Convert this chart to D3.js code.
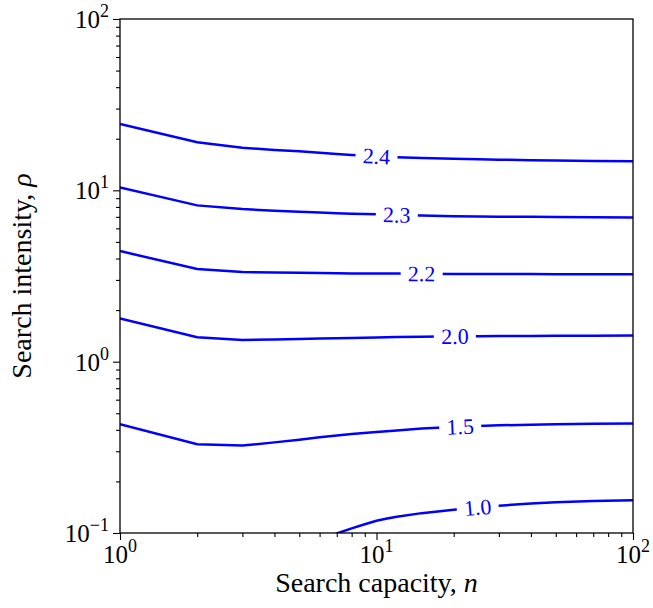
<!DOCTYPE html>
<meta charset="utf-8">
<style>
body { margin: 0; background: #fff; }
text { font-family: "Liberation Serif", "Times New Roman", serif; }
.frame { fill: none; stroke: #000; stroke-width: 1.3px; }
.contour { fill: none; stroke: #0000ff; stroke-width: 2.5px; }
.clabel { fill: #0000ff; font-size: 22px; }
.axis path { display: none; }
.axis line { stroke: #000; stroke-width: 1.1px; }
</style>
<body>
<script src="https://d3js.org/d3.v7.min.js"></script>
<script>

// search capacity grid
var capacity = [1, 2, 3, 4, 5, 6, 7, 8, 10, 12, 15, 20, 25, 30, 40, 50, 70, 100];

// contour levels of search intensity along the grid
var rho24 = [24.4, 19.1, 17.7, 17.2, 16.9, 16.55, 16.3, 16.1, 15.8, 15.6, 15.45, 15.3, 15.2, 15.1, 15.0, 14.95, 14.85, 14.8];
var rho23 = [10.4, 8.17, 7.78, 7.6, 7.5, 7.42, 7.35, 7.3, 7.24, 7.18, 7.12, 7.07, 7.04, 7.02, 7.0, 6.98, 6.96, 6.95];
var rho22 = [4.42, 3.47, 3.34, 3.31, 3.30, 3.29, 3.28, 3.275, 3.27, 3.265, 3.26, 3.25, 3.25, 3.25, 3.245, 3.24, 3.24, 3.24];
var rho20 = [1.79, 1.39, 1.34, 1.345, 1.355, 1.363, 1.37, 1.376, 1.385, 1.392, 1.40, 1.405, 1.408, 1.41, 1.413, 1.415, 1.418, 1.42];
var rho15 = [0.431, 0.330, 0.324, 0.338, 0.350, 0.362, 0.371, 0.378, 0.389, 0.397, 0.407, 0.416, 0.421, 0.425, 0.429, 0.431, 0.434, 0.436];

// the 1.0 contour only enters the plot near n = 7
var capacityLow = [6, 7, 8, 9, 10, 11, 12, 15, 20, 25, 30, 40, 50, 70, 100];
var rho10 = [0.0897, 0.0993, 0.1064, 0.1124, 0.1178, 0.1215, 0.1245, 0.1306, 0.1368, 0.1412, 0.1443, 0.1486, 0.1510, 0.1535, 0.1554];

var levels = ["2.4", "2.3", "2.2", "2.0", "1.5", "1.0"];
var labelAt = [10, 12, 15, 20.2, 21.2, 24.8];   // n where each label sits

var xMajor = [1, 10, 100], yMajor = [0.1, 1, 10, 100];
var xExp = ["0", "1", "2"], yExp = ["\u22121", "0", "1", "2"];

var width = 653, height = 608;
var x0 = 120, x1 = 633, y0 = 19, y1 = 533;

var x = d3.scaleLog().domain([1, 100]).range([x0, x1]);
var y = d3.scaleLog().domain([0.1, 100]).range([y1, y0]);

var svg = d3.select("body").append("svg")
    .attr("width", width)
    .attr("height", height);

svg.append("defs").append("clipPath")
    .attr("id", "plot")
  .append("rect")
    .attr("x", x0).attr("y", y0)
    .attr("width", x1 - x0).attr("height", y1 - y0);

var contours = [
  {ns: capacity, vs: rho24},
  {ns: capacity, vs: rho23},
  {ns: capacity, vs: rho22},
  {ns: capacity, vs: rho20},
  {ns: capacity, vs: rho15},
  {ns: capacityLow, vs: rho10}
];

var line = d3.line()
    .x(function(d) { return x(d[0]); })
    .y(function(d) { return y(d[1]); });

var g = svg.append("g").attr("clip-path", "url(#plot)");

g.selectAll(".contour")
    .data(contours)
  .enter().append("path")
    .attr("class", "contour")
    .attr("d", function(c) { return line(d3.zip(c.ns, c.vs)); });

// value of a contour at n, interpolated in log space
function rhoAt(c, n) {
  var i = d3.bisectRight(c.ns, n) - 1;
  i = Math.max(0, Math.min(i, c.ns.length - 2));
  var t = (Math.log(n) - Math.log(c.ns[i])) / (Math.log(c.ns[i + 1]) - Math.log(c.ns[i]));
  return Math.exp(Math.log(c.vs[i]) + t * (Math.log(c.vs[i + 1]) - Math.log(c.vs[i])));
}

contours.forEach(function(c, k) {
  var n = labelAt[k];
  var px = x(n), py = y(rhoAt(c, n));
  var a = x(n * 1.15) - x(n / 1.15);
  var b = y(rhoAt(c, n * 1.15)) - y(rhoAt(c, n / 1.15));
  var ang = Math.atan2(b, a) * 180 / Math.PI;
  var lg = svg.append("g")
      .attr("transform", "translate(" + px + "," + py + ") rotate(" + ang + ")");
  lg.append("rect")
      .attr("x", -21).attr("y", -5)
      .attr("width", 42).attr("height", 10)
      .attr("fill", "#fff");
  lg.append("text")
      .attr("class", "clabel")
      .attr("text-anchor", "middle")
      .attr("y", 7.5)
      .text(levels[k]);
});

// minor ticks
var xMinor = [], yMinor = [];
[1, 10].forEach(function(d) { for (var m = 2; m < 10; m++) xMinor.push(d * m); });
[0.1, 1, 10].forEach(function(d) { for (var m = 2; m < 10; m++) yMinor.push(d * m); });

var gx = svg.append("g").attr("class", "axis")
    .attr("transform", "translate(0," + y1 + ")");
gx.call(d3.axisBottom(x).tickValues(xMajor).tickFormat("").tickSizeOuter(0).tickSize(7));
gx.append("g").call(d3.axisBottom(x).tickValues(xMinor).tickFormat("").tickSizeOuter(0).tickSize(4));

var gy = svg.append("g").attr("class", "axis")
    .attr("transform", "translate(" + x0 + ",0)");
gy.call(d3.axisLeft(y).tickValues(yMajor).tickFormat("").tickSizeOuter(0).tickSize(7));
gy.append("g").call(d3.axisLeft(y).tickValues(yMinor).tickFormat("").tickSizeOuter(0).tickSize(4));

svg.selectAll(".axis .domain").remove();

function power(sel, exp) {
  sel.append("tspan").text("10");
  sel.append("tspan").attr("dy", -11).style("font-size", "18px").text(exp);
}

xMajor.forEach(function(d, i) {
  svg.append("text")
      .attr("x", x(d)).attr("y", 563)
      .attr("text-anchor", "middle")
      .style("font-size", "25px")
      .call(power, xExp[i]);
});

yMajor.forEach(function(d, i) {
  svg.append("text")
      .attr("x", 109).attr("y", y(d) + 9)
      .attr("text-anchor", "end")
      .style("font-size", "25px")
      .call(power, yExp[i]);
});

svg.append("rect")
    .attr("class", "frame")
    .attr("x", x0).attr("y", y0)
    .attr("width", x1 - x0).attr("height", y1 - y0);

var xl = svg.append("text")
    .attr("x", (x0 + x1) / 2).attr("y", 592)
    .attr("text-anchor", "middle")
    .style("font-size", "28px");
xl.append("tspan").text("Search capacity, ");
xl.append("tspan").style("font-style", "italic").text("n");

var yl = svg.append("text")
    .attr("transform", "translate(31," + (y0 + y1) / 2 + ") rotate(-90)")
    .attr("text-anchor", "middle")
    .style("font-size", "28px");
yl.append("tspan").text("Search intensity, ");
yl.append("tspan").style("font-style", "italic").text("\u03c1");

</script>
